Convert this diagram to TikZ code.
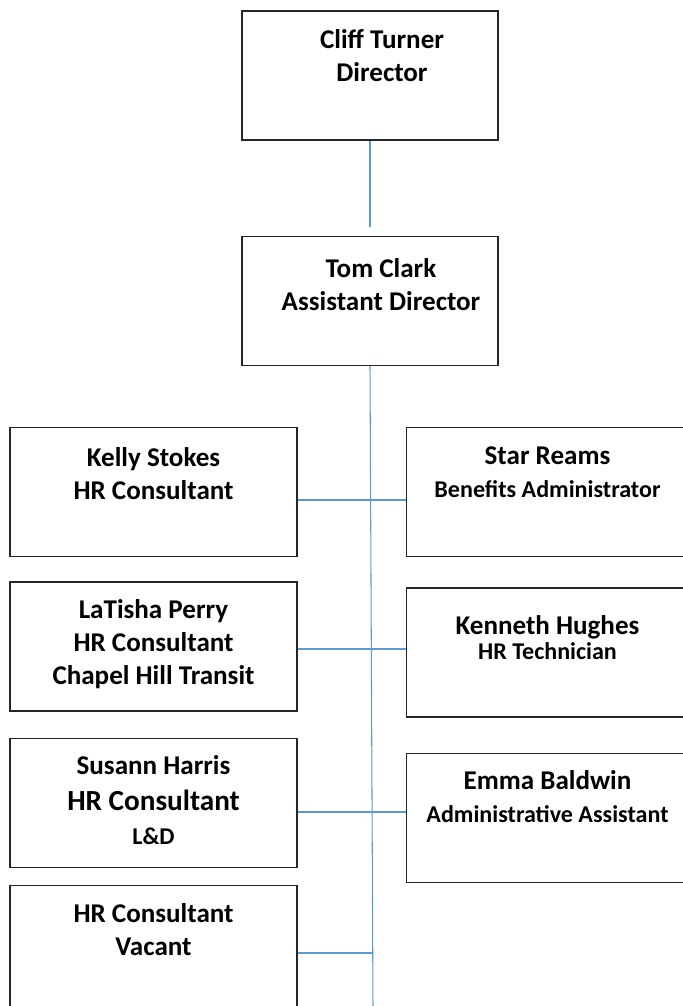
\documentclass[tikz,border=0pt]{standalone}
\usepackage{fontspec}
\setmainfont{Carlito}
\usepackage{tikz}
\usetikzlibrary{positioning}
\definecolor{linkblue}{RGB}{91, 155, 213}
\newcommand{\namesz}{\fontsize{15.4}{18.8}\selectfont}
\newcommand{\smallsz}{\fontsize{13.7}{18.8}\selectfont}
\newcommand{\bigsz}{\fontsize{16.6}{18.8}\selectfont}
\tikzset{
  box/.style={draw=black!85, line width=0.8pt, rectangle, minimum height=2.58cm},
  txt/.style={align=center, inner sep=0pt, font=\namesz\bfseries},
  link/.style={draw=linkblue, line width=0.6pt}
}

\begin{document}
\begin{tikzpicture}
        \clip (0,0) rectangle (13.66,-20.12);
        \fill[white] (0,0) rectangle (13.66,-20.12);

        \node[box, minimum width=5.12cm] (cliff) at (7.4,-1.51) {};
        \node[box, minimum width=5.12cm, below=1.9cm of cliff] (tom) {};

        \node[box, minimum width=5.74cm] (kelly) at (3.07,-9.84) {};
        \node[box, minimum width=5.74cm, below=0.48cm of kelly] (latisha) {};
        \node[box, minimum width=5.74cm, below=0.52cm of latisha] (susann) {};
        \node[box, minimum width=5.74cm, below=0.34cm of susann] (vacant) {};

        \node[box, minimum width=5.74cm] (star) at (11.0,-9.84) {};
        \node[box, minimum width=5.74cm, below=0.6cm of star] (kenneth) {};
        \node[box, minimum width=5.74cm, below=0.7cm of kenneth] (emma) {};

        \node[txt, below=0.38cm of cliff.north, xshift=0.24cm] (cliff-t) {Cliff Turner\\Director};
        \node[txt, below=0.44cm of tom.north, xshift=0.22cm] (tom-t) {Tom Clark\\Assistant Director};
        \node[txt, below=0.4cm of kelly.north] (kelly-t) {Kelly Stokes\\HR Consultant};
        \node[txt, below=0.36cm of latisha.north] (latisha-t) {LaTisha Perry\\HR Consultant\\Chapel Hill Transit};
        \node[txt, below=0.36cm of susann.north] (susann-t) {Susann Harris\\[0.06cm]{\bigsz HR Consultant}\\{\smallsz L\&D}};
        \node[txt, below=0.36cm of vacant.north] (vacant-t) {HR Consultant\\Vacant};
        \node[txt, below=0.4cm of star.north, xshift=-0.05cm] (star-t) {Star Reams\\{\smallsz Benefits Administrator}};
        \node[txt, below=0.56cm of kenneth.north, xshift=-0.05cm] (kenneth-t) {Kenneth Hughes\\[-0.16cm]{\smallsz HR Technician}};
        \node[txt, below=0.36cm of emma.north, xshift=-0.05cm] (emma-t) {Emma Baldwin\\{\smallsz Administrative Assistant}};

        \coordinate (trunk-end) at (7.46,-20.2);
        \coordinate (j1) at (7.42,-10.0);
        \coordinate (j2) at (7.43,-12.98);
        \coordinate (j3) at (7.44,-16.24);
        \coordinate (j4) at (7.45,-19.06);

        \draw[link, shorten >=0.18cm] (cliff) -- (tom);
        \draw[link] (tom.south) -- (trunk-end);
        \draw[link] (j1 -| kelly.east) -- (j1 -| star.west);
        \draw[link] (j2 -| latisha.east) -- (j2 -| kenneth.west);
        \draw[link] (j3 -| susann.east) -- (j3 -| emma.west);
        \draw[link] (j4 -| vacant.east) -- (j4);
    \end{tikzpicture}
\end{document}
